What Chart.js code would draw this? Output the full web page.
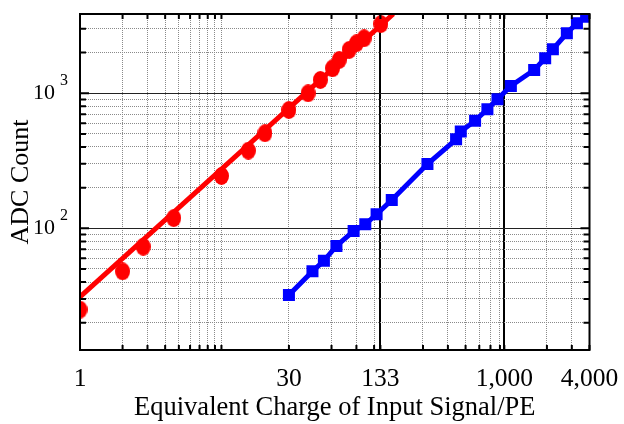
<!DOCTYPE html>
<html lang="en">
<head>
<meta charset="UTF-8">
<title>ADC Count vs Equivalent Charge</title>
<script src="https://cdn.jsdelivr.net/npm/chart.js"></script>
<style>
    html, body { margin: 0; padding: 0; background: #fff; }
</style>
</head>
<body>
<canvas id="adcChart" width="624" height="424"></canvas>
<script>
// red = high gain channel, blue = low gain channel
const redCharge = [1, 2, 2.8, 4.6, 10, 15.5, 20.3, 30, 41, 50, 61, 68, 80, 90, 102, 134];
const redAdc    = [25, 48, 73, 119, 244, 376, 506, 752, 1000, 1254, 1531, 1766, 2094, 2346, 2553, 3258];

// straight fit through the red points (ends)
const fitCharge = [1, 164];
const fitAdc    = [31, 3864];

const blueCharge = [30, 44, 53, 65, 86, 104, 125, 160, 286, 456, 492, 621, 759, 894, 1112, 1625, 1944, 2203, 2767, 3259, 3786];
const blueAdc    = [32, 48, 57.5, 74, 95.5, 107, 127, 162, 299, 456, 520, 627, 761, 903, 1133, 1488, 1815, 2118, 2783, 3305, 3690];

// grid / tick positions
const xGrid   = [1, 2, 3, 4, 5, 6, 7, 8, 9, 10, 30, 60, 90, 120, 133, 266, 399, 532, 665, 798, 931, 1000, 2000, 3000, 4000];
const xLabels = [1, 30, 133, 1000, 4000];
const xStrong = [133, 1000];
const yGrid   = [20, 30, 40, 50, 60, 70, 80, 90, 100, 200, 300, 400, 500, 600, 700, 800, 900, 1000, 2000, 3000];
const yLabels = [100, 1000];

const serif = "'Liberation Serif', 'Times New Roman', serif";

const pts = (xs, ys) => xs.map((v, i) => ({x: v, y: ys[i]}));

// slightly tall red dot, like the markers in the original
const dot = document.createElement('canvas');
dot.width = 15; dot.height = 18;
(function () {
    const c = dot.getContext('2d');
    c.fillStyle = '#ff0000';
    c.beginPath();
    c.ellipse(7.5, 9, 7.5, 9, 0, 0, Math.PI * 2);
    c.fill();
})();

// the plot frame, inward ticks on all four sides, and exponents for 10^n
const frame = {
    id: 'frame',
    afterDatasetsDraw(chart) {
        const {ctx, chartArea: a, scales: {x, y}} = chart;
        ctx.save();
        ctx.strokeStyle = '#000';
        ctx.lineWidth = 2;
        ctx.strokeRect(a.left, a.top, a.right - a.left, a.bottom - a.top);
        x.ticks.forEach(t => {
            const px = x.getPixelForValue(t.value);
            ctx.beginPath();
            ctx.moveTo(px, a.bottom); ctx.lineTo(px, a.bottom - 5);
            ctx.moveTo(px, a.top); ctx.lineTo(px, a.top + 5);
            ctx.stroke();
        });
        y.ticks.forEach(t => {
            const py = y.getPixelForValue(t.value);
            const len = yLabels.includes(t.value) ? 9 : 6;
            ctx.beginPath();
            ctx.moveTo(a.left, py); ctx.lineTo(a.left + len, py);
            ctx.moveTo(a.right, py); ctx.lineTo(a.right - len, py);
            ctx.stroke();
        });
        ctx.fillStyle = '#000';
        ctx.font = '16px ' + serif;
        ctx.textAlign = 'left';
        ctx.textBaseline = 'alphabetic';
        yLabels.forEach(v => {
            const py = y.getPixelForValue(v);
            ctx.fillText(String(Math.round(Math.log10(v))), a.left - 20, py - 8);
        });
        ctx.restore();
    }
};

new Chart(document.getElementById('adcChart'), {
    type: 'scatter',
    data: {
        datasets: [
            {
                label: 'fit',
                data: pts(fitCharge, fitAdc),
                showLine: true,
                borderColor: '#ff0000',
                borderWidth: 5,
                pointRadius: 0
            },
            {
                label: 'high gain',
                data: pts(redCharge, redAdc),
                showLine: false,
                pointStyle: dot,
                pointRadius: 8,
                backgroundColor: '#ff0000'
            },
            {
                label: 'low gain',
                data: pts(blueCharge, blueAdc),
                showLine: true,
                borderColor: '#0000ff',
                borderWidth: 5,
                pointStyle: 'rect',
                pointRadius: 8.5,
                pointBorderWidth: 0,
                backgroundColor: '#0000ff'
            }
        ]
    },
    options: {
        responsive: false,
        animation: false,
        layout: { padding: { top: 14, right: 34.5, left: 0, bottom: 0 } },
        plugins: { legend: { display: false }, tooltip: { enabled: false } },
        scales: {
            x: {
                type: 'logarithmic',
                min: 1,
                max: 4000,
                afterBuildTicks: s => { s.ticks = xGrid.map(v => ({value: v})); },
                afterFit: s => { s.height = 74; s.paddingLeft = 0; s.paddingRight = 0; },
                ticks: {
                    autoSkip: false,
                    maxRotation: 0,
                    padding: 14,
                    color: '#000',
                    font: { family: serif, size: 25.5 },
                    callback: v => xLabels.includes(v) ? v.toLocaleString('en-US') : ''
                },
                grid: {
                    drawTicks: false,
                    color: c => xStrong.includes(c.tick && c.tick.value) ? '#000' : '#8a8a8a',
                    lineWidth: c => xStrong.includes(c.tick && c.tick.value) ? 2 : 1
                },
                border: {
                    display: false,
                    dash: c => xStrong.includes(c.tick && c.tick.value) ? [] : [1, 1]
                },
                title: {
                    display: true,
                    text: 'Equivalent Charge of Input Signal/PE',
                    color: '#000',
                    font: { family: serif, size: 26.5 },
                    padding: { top: 0, bottom: 0 }
                }
            },
            y: {
                type: 'logarithmic',
                min: 12.55,
                max: 3864,
                afterBuildTicks: s => { s.ticks = yGrid.map(v => ({value: v})); },
                afterFit: s => { s.width = 80; s.paddingTop = 0; s.paddingBottom = 0; },
                ticks: {
                    autoSkip: false,
                    padding: 25,
                    color: '#000',
                    font: { family: serif, size: 22 },
                    callback: v => yLabels.includes(v) ? '10' : ''
                },
                grid: {
                    drawTicks: false,
                    color: c => yLabels.includes(c.tick && c.tick.value) ? '#222' : '#8a8a8a'
                },
                border: {
                    display: false,
                    dash: c => yLabels.includes(c.tick && c.tick.value) ? [] : [1, 1]
                },
                title: {
                    display: true,
                    text: 'ADC Count',
                    color: '#000',
                    font: { family: serif, size: 26 },
                    padding: { top: 6, bottom: 0 }
                }
            }
        }
    },
    plugins: [frame]
});
</script>
</body>
</html>
